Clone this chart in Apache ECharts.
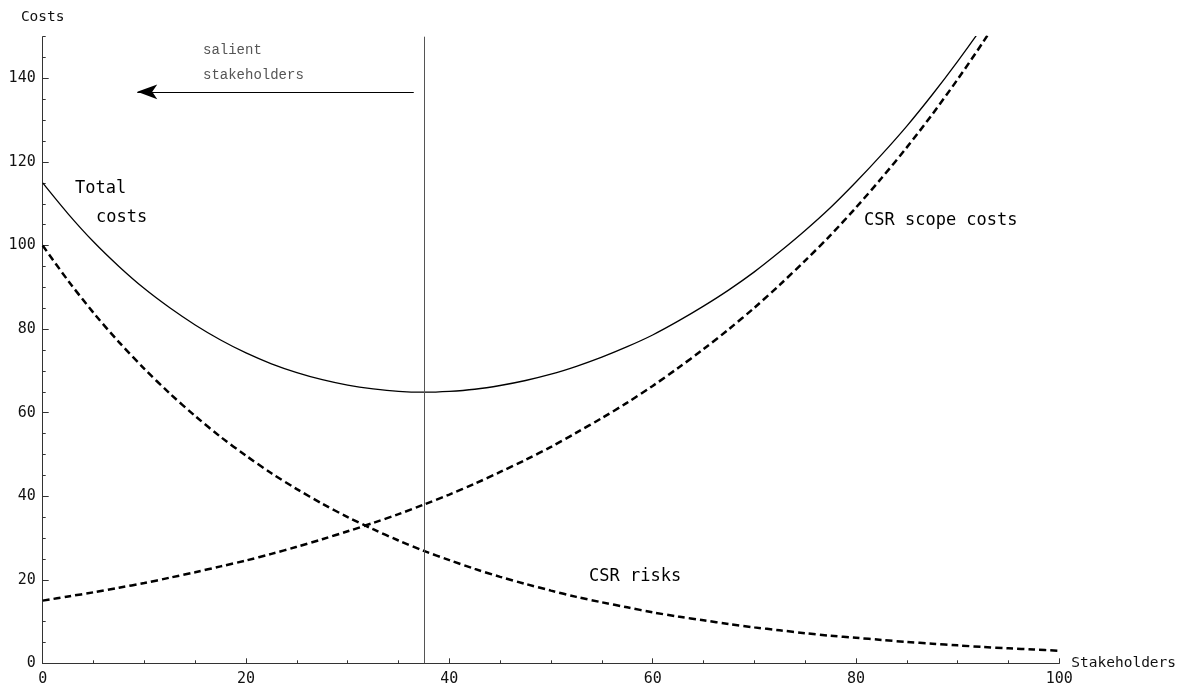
<!DOCTYPE html>
<html>
<head>
<meta charset="utf-8">
<script src="https://cdn.jsdelivr.net/npm/echarts@6/dist/echarts.min.js"></script>
<style>
html,body{margin:0;padding:0;background:#fff;}
#chart{width:1181px;height:688px;}
</style>
</head>
<body>
<div id="chart"></div>
<script>
// Data
const stakeholders = [0,2.5,5,7.5,10,12.5,15,17.5,20,22.5,25,27.5,30,32.5,35,37.5,40,42.5,45,47.5,50,52.5,55,57.5,60,62.5,65,67.5,70,72.5,75,77.5,80,82.5,85,87.5,90,92.5,95,97.5,100];
const totalCosts   = [115,107.6,100.9,95.0,89.7,85.1,81.0,77.4,74.3,71.7,69.6,67.9,66.6,65.7,65.1,64.9,65.1,65.6,66.5,67.7,69.2,71.1,73.3,75.8,78.6,81.9,85.5,89.4,93.7,98.5,103.6,109.1,115.2,121.7,128.6,136.1,144.1,152.6,161.8,171.6,182.1];
const csrRisks     = [100,91.6,83.9,76.9,70.5,64.6,59.2,54.2,49.7,45.5,41.7,38.2,35.0,32.1,29.4,26.9,24.7,22.6,20.7,19.0,17.4,15.9,14.6,13.4,12.2,11.2,10.3,9.4,8.6,7.9,7.2,6.6,6.1,5.6,5.1,4.7,4.3,3.9,3.6,3.3,3.0];
const scopeCosts   = [15,16.0,17.0,18.1,19.2,20.5,21.8,23.2,24.6,26.2,27.9,29.7,31.6,33.6,35.7,38.0,40.4,43.0,45.8,48.7,51.8,55.2,58.7,62.4,66.4,70.7,75.2,80.0,85.1,90.6,96.4,102.5,109.1,116.1,123.5,131.4,139.8,148.7,158.2,168.3,179.1];
const xMajorTicks = [0,20,40,60,80,100];
const yMajorTicks = [0,20,40,60,80,100,120,140];
const salientX = 37.5;
const arrowY = 136.8, arrowFrom = 36.5, arrowTo = 9.3;

const pairs = (ys) => stakeholders.map((x,i)=>[x,ys[i]]);
const mono = 'DejaVu Sans Mono';

const chart = echarts.init(document.getElementById('chart'));
const baseX = {type:'value', min:0, max:100, splitLine:{show:false}};
const baseY = {type:'value', min:0, max:150, splitLine:{show:false}};
chart.setOption({
  animation:false,
  backgroundColor:'#fff',
  grid:{left:42.7, right:121.7, top:36.7, bottom:24.7},
  xAxis:[
    Object.assign({}, baseX, {
      interval:20,
      name:'Stakeholders', nameLocation:'end', nameGap:12,
      nameTextStyle:{fontFamily:mono, fontSize:14.5, color:'#111', verticalAlign:'middle', align:'left'},
      axisLine:{lineStyle:{color:'#333', width:1}},
      axisTick:{inside:true, length:5, customValues:xMajorTicks, lineStyle:{color:'#333'}},
      axisLabel:{customValues:xMajorTicks, fontFamily:mono, fontSize:15, color:'#111', margin:8}
    }),
    Object.assign({}, baseX, {
      interval:5, position:'bottom',
      axisLine:{show:false},
      axisTick:{inside:true, length:3, lineStyle:{color:'#333'}},
      axisLabel:{show:false}
    })
  ],
  yAxis:[
    Object.assign({}, baseY, {
      interval:20,
      name:'Costs', nameLocation:'end', nameGap:12,
      nameTextStyle:{fontFamily:mono, fontSize:14.5, color:'#111'},
      axisLine:{show:true, lineStyle:{color:'#333', width:1}},
      axisTick:{show:true, inside:true, length:6, customValues:yMajorTicks, lineStyle:{color:'#333'}},
      axisLabel:{customValues:yMajorTicks, fontFamily:mono, fontSize:15, color:'#111', margin:7}
    }),
    Object.assign({}, baseY, {
      interval:5, position:'left',
      axisLine:{show:false},
      axisTick:{show:true, inside:true, length:3, lineStyle:{color:'#333'}},
      axisLabel:{show:false}
    })
  ],
  series:[
    {
      name:'Total costs', type:'line', data:pairs(totalCosts), smooth:0.3,
      showSymbol:false, symbol:'none', clip:true,
      lineStyle:{color:'#000', width:1.3},
      markLine:{
        silent:true, symbol:['none','none'], label:{show:false},
        lineStyle:{color:'#555', width:1, type:'solid'},
        data:[{xAxis:salientX}]
      }
    },
    {
      name:'CSR risks', type:'line', data:pairs(csrRisks), smooth:0.3,
      showSymbol:false, symbol:'none', clip:true,
      lineStyle:{color:'#000', width:2.5, type:[7,4]},
      markLine:{
        silent:true, symbol:['arrow','none'], symbolSize:[11,20], label:{show:false},
        lineStyle:{color:'#000', width:1.2, type:'solid'},
        data:[[{coord:[arrowTo, arrowY]},{coord:[arrowFrom, arrowY]}]]
      }
    },
    {
      name:'CSR scope costs', type:'line', data:pairs(scopeCosts), smooth:0.3,
      showSymbol:false, symbol:'none', clip:true,
      lineStyle:{color:'#000', width:2.5, type:[7,4]}
    }
  ],
  graphic:[
    {type:'text', x:75, y:189, style:{text:'Total', font:'17px "DejaVu Sans Mono"', fill:'#000', verticalAlign:'middle'}},
    {type:'text', x:96, y:218, style:{text:'costs', font:'17px "DejaVu Sans Mono"', fill:'#000', verticalAlign:'middle'}},
    {type:'text', x:864, y:221, style:{text:'CSR scope costs', font:'17px "DejaVu Sans Mono"', fill:'#000', verticalAlign:'middle'}},
    {type:'text', x:589, y:577, style:{text:'CSR risks', font:'17px "DejaVu Sans Mono"', fill:'#000', verticalAlign:'middle'}},
    {type:'text', x:203, y:50, style:{text:'salient', font:'14px "Liberation Mono"', fill:'#555', verticalAlign:'middle'}},
    {type:'text', x:203, y:75, style:{text:'stakeholders', font:'14px "Liberation Mono"', fill:'#555', verticalAlign:'middle'}}
  ]
});
</script>
</body>
</html>
